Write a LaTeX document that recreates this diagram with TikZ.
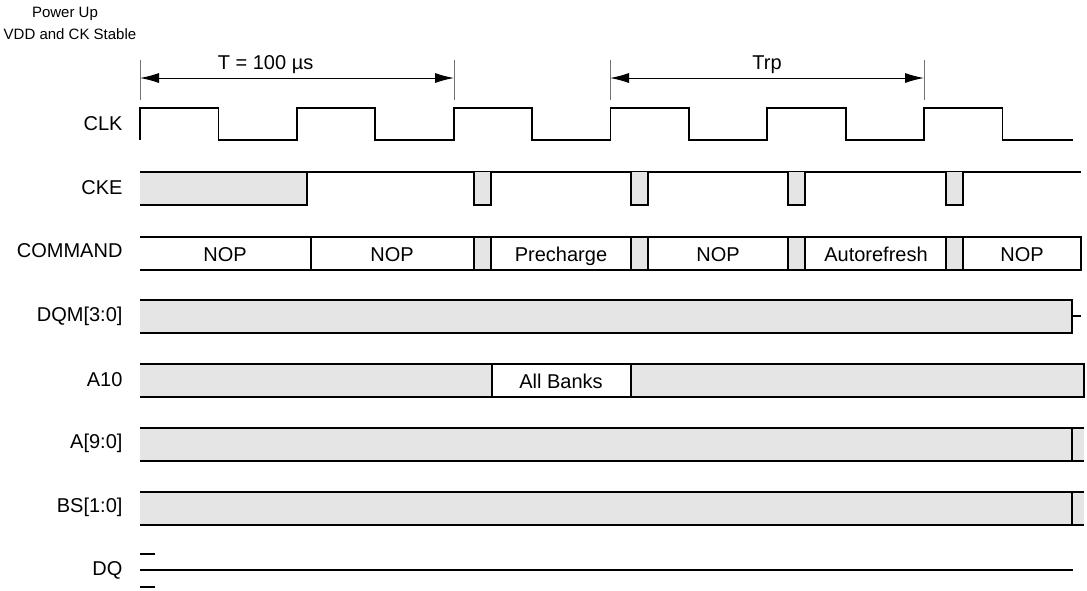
\documentclass[tikz,border=0pt]{standalone}
\usepackage{fontspec}
\setmainfont{Liberation Sans}
\usetikzlibrary{positioning, arrows.meta}
\tikzset{
x=1pt, y=-1pt, % one unit per pixel, y runs down
>={Latex[length=19pt,width=10pt]}, % narrow filled arrow heads
sig/.style={draw, line width=1.8pt}, % signal lines
bus/.style={fill=black!10}, % don't care level
tick/.style={draw=black!55, line width=0.8pt}, % dimension ticks
every node/.style={font=\fontsize{20}{22}\selectfont}, % sets the text size
lbl/.style={anchor=east}, % signal names
cmd/.style={anchor=base}, % texts inside the buses
note/.style={font=\fontsize{15}{17}\selectfont}, % header text
}

\begin{document}
\begin{tikzpicture}
\useasboundingbox (0,0) rectangle (1087,590);

% header
\node[note] (pwr) at (65,14) {Power Up};
\node[note] (vdd) at (70,34) {VDD and CK Stable};

% timing marks
\foreach \x in {140,454,610,924}
    \draw[tick] (\x,60) -- (\x,100);
\coordinate (pu) at (140,78);
\coordinate (pend) at (454,78);
\coordinate (pre) at (610,78);
\coordinate (rpend) at (924,78);
\draw[<->, line width=1pt] (pu) -- node[pos=0.4, above=1pt] (tpu) {T = 100 µs} (pend);
\draw[<->, line width=1pt] (pre) -- node[above=1pt] (trp) {Trp} (rpend);

% signal names
\node[lbl] (lclk) at (126,124) {CLK};
\node[lbl] (lcke) at (126,188) {CKE};
\node[lbl] (lcmd) at (126,251) {COMMAND};
\node[lbl] (ldqm) at (126,316) {DQM[3:0]};
\node[lbl] (la10) at (126,380) {A10};
\node[lbl] (laddr) at (126,443) {A[9:0]};
\node[lbl] (lbs) at (126,507) {BS[1:0]};
\node[lbl] (ldq) at (126,570) {DQ};

% CLK
\draw[sig] (140,140) \foreach \i in {1,...,5} {
    -- ++(0,-32) -- ++(78.4,0) -- ++(0,32) -- ++(78.4,0) }
    -- ++(0,-32) -- ++(78.4,0) -- ++(0,32) -- (1073,140);

% CKE
\fill[bus] (140,172) rectangle (307,205);
\draw[sig] (140,205) -- (307,205) -- (307,172);
\draw[sig] (140,172) -- (1081,172);
\foreach \x in {474,631,788,946} {
    \fill[bus] (\x,172) rectangle ++(17,33);
    \draw[sig] (\x,172) -- ++(0,33) -- ++(17,0) -- ++(0,-33);
}

% COMMAND
\foreach \x in {474,631,788,946} {
    \fill[bus] (\x,237) rectangle ++(17,33);
    \draw[sig] (\x,237) -- ++(0,33) (\x+17,237) -- ++(0,33);
}
\draw[sig] (140,237) -- (1081,237) -- (1081,270) -- (140,270);
\draw[sig] (311,237) -- (311,270);
\foreach \x/\t/\n in {225/NOP/c1, 392/NOP/c2, 561/Precharge/c3,
                      718/NOP/c4, 876/Autorefresh/c5, 1022/NOP/c6}
    \node[cmd] (\n) at (\x,261) {\t};

% DQM[3:0]
\fill[bus] (140,300) rectangle (1072,333);
\draw[sig] (140,300) -- (1072,300) -- (1072,333) -- (140,333);
\draw[sig] (1072,316) -- (1081,316);

% A10
\fill[bus] (140,364) rectangle (492,397);
\fill[bus] (631,364) rectangle (1084,397);
\draw[sig] (140,364) -- (1084,364) -- (1084,397) -- (140,397);
\draw[sig] (492,364) -- (492,397) (631,364) -- (631,397);
\node[cmd] (banks) at (561,388) {All Banks};

% A[9:0] and BS[1:0]
\foreach \y in {428,492} {
    \fill[bus] (140,\y) rectangle (1084,\y+33);
    \draw[sig] (140,\y) -- (1084,\y) (140,\y+33) -- (1084,\y+33);
    \draw[sig] (1072,\y) -- (1072,\y+33);
}

% DQ
\draw[sig] (140,570) -- (1073,570);
\draw[sig] (140,554) -- (155,554) (140,587) -- (155,587);
\end{tikzpicture}
\end{document}
